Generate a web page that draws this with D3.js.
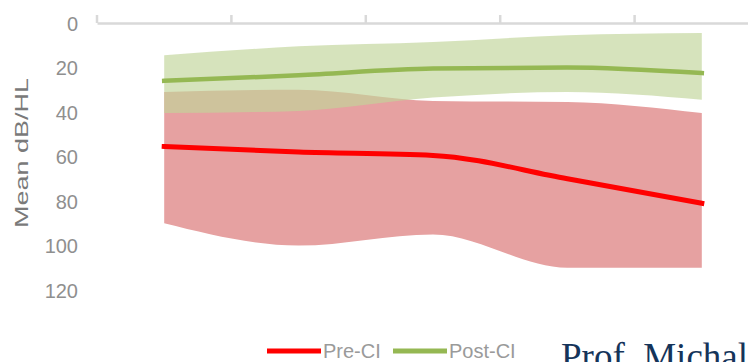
<!DOCTYPE html>
<html>
<head>
<meta charset="utf-8">
<script src="https://cdn.jsdelivr.net/npm/d3@7"></script>
<style>
  html, body { margin: 0; padding: 0; background: #fff; overflow: hidden; }
  svg { display: block; }
</style>
</head>
<body>
<svg id="chart" width="748" height="362"></svg>
<script>
// Test frequencies (Hz) along the x axis
const frequencies = ["250", "500", "1000", "2000", "4000"];

// Pre-CI thresholds (mean and range, dB HL)
const preMean  = [55.5, 58, 59.5, 70, 81];
const preLow   = [31, 30, 35, 35.5, 40.5];
const preHigh  = [90, 100, 95, 110, 110];

// Post-CI thresholds (mean and range, dB HL)
const postMean = [26, 23.5, 20.5, 20, 22.5];
const postLow  = [14.5, 10.5, 8.5, 5.5, 4.5];
const postHigh = [40.5, 39.5, 33.5, 31, 34.5];

const yTicks = [0, 20, 40, 60, 80, 100, 120];
const seriesNames = ["Pre-CI", "Post-CI"];

const svg = d3.select("#chart");

const x = d3.scaleBand().domain(frequencies).range([97, 769]).paddingInner(0).paddingOuter(0);
const cx = d => x(d) + x.bandwidth() / 2;
const y = d3.scaleLinear().domain([0, 120]).range([23, 290]);

const curve = d3.curveMonotoneX;

function bandArea(low, high) {
  return d3.area()
    .x((d, i) => cx(frequencies[i]))
    .y0((d, i) => y(low[i]))
    .y1((d, i) => y(high[i]))
    .curve(curve)(frequencies);
}
function meanLine(vals) {
  return d3.line()
    .x((d, i) => cx(frequencies[i]))
    .y((d, i) => y(vals[i]))
    .curve(curve)(frequencies);
}

// x axis along the top (value 0), ticks pointing up
const xAxis = d3.axisTop(x).tickSize(8).tickSizeOuter(0).tickFormat("");
const gx = svg.append("g").attr("transform", `translate(0,${y(0)})`).call(xAxis);
gx.select(".domain").attr("stroke", "#d9d9d9").attr("stroke-width", 2.5);
gx.selectAll(".tick line").attr("stroke", "#d9d9d9").attr("stroke-width", 2.5)
  .attr("transform", `translate(${-x.bandwidth() / 2},0)`);
// closing tick at the right end of the band range
gx.append("line")
  .attr("x1", x.range()[1]).attr("x2", x.range()[1])
  .attr("y1", 0).attr("y2", -8)
  .attr("stroke", "#d9d9d9").attr("stroke-width", 2.5);

// y axis labels only
const yAxis = d3.axisLeft(y).tickValues(yTicks).tickSize(0).tickPadding(0);
const gy = svg.append("g").attr("transform", "translate(78,0)").call(yAxis);
gy.select(".domain").remove();
gy.selectAll(".tick text")
  .attr("fill", "#8f8f8f")
  .style("font-family", "'Liberation Sans Narrow', 'Liberation Sans', Arial, sans-serif")
  .style("font-size", "20px")
  .attr("dy", "0.36em");

// axis title
svg.append("text")
  .attr("transform", "translate(28,153) rotate(-90)")
  .attr("text-anchor", "middle")
  .attr("fill", "#7a7a7a")
  .style("font-family", "'Liberation Sans', Arial, sans-serif")
  .style("font-size", "18px")
  .attr("textLength", 150)
  .attr("lengthAdjust", "spacingAndGlyphs")
  .text("Mean dB/HL");

// range bands
svg.append("path").attr("d", bandArea(preLow, preHigh)).attr("fill", "#e6a1a1");
svg.append("path").attr("d", bandArea(postLow, postHigh))
  .attr("fill", "rgb(193,213,154)").attr("fill-opacity", 0.66);

// mean lines
svg.append("path").attr("d", meanLine(preMean))
  .attr("fill", "none").attr("stroke", "#ff0000").attr("stroke-width", 5)
  .attr("stroke-linecap", "square");
svg.append("path").attr("d", meanLine(postMean))
  .attr("fill", "none").attr("stroke", "#95b853").attr("stroke-width", 4.5)
  .attr("stroke-linecap", "square");

// legend
const legendColors = ["#ff0000", "#95b853"];
const legendX = [267, 393];
const legend = svg.append("g");
seriesNames.forEach((name, i) => {
  legend.append("line")
    .attr("x1", legendX[i]).attr("x2", legendX[i] + 54)
    .attr("y1", 351).attr("y2", 351)
    .attr("stroke", legendColors[i]).attr("stroke-width", 5);
  legend.append("text")
    .attr("x", legendX[i] + 56).attr("y", 351).attr("dy", "0.36em")
    .attr("fill", "#9a9a9a")
    .style("font-family", "'Liberation Sans Narrow', 'Liberation Sans', Arial, sans-serif")
    .style("font-size", "20px")
    .text(name);
});

// presenter credit
svg.append("text")
  .attr("x", 561).attr("y", 369)
  .attr("fill", "#15345a")
  .style("font-family", "'Liberation Serif', 'Times New Roman', serif")
  .style("font-size", "37px")
  .text("Prof. Michal");
</script>
</body>
</html>
